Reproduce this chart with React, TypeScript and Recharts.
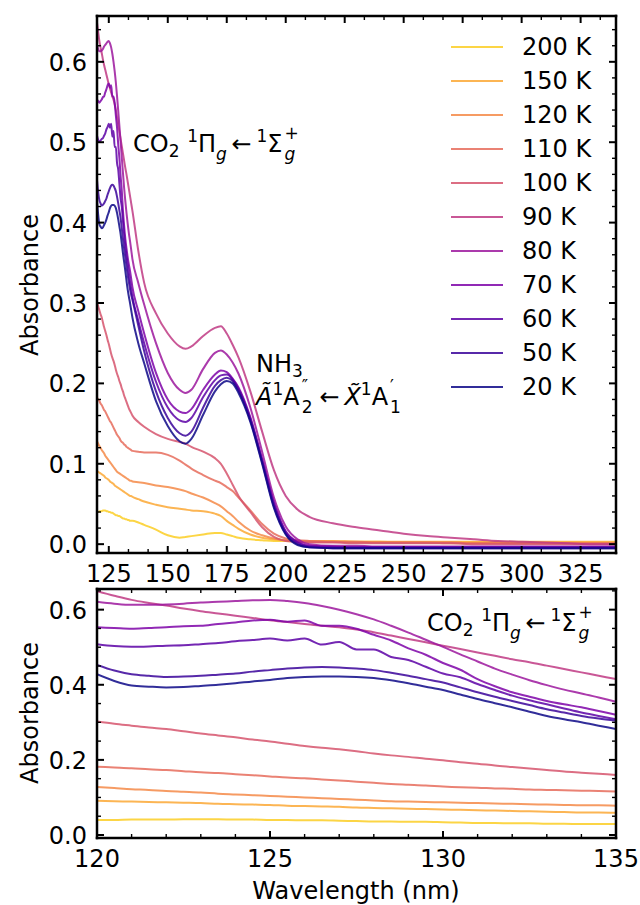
import React from "react";
import { LineChart, Line, XAxis, YAxis } from "recharts";

const FONT = '"DejaVu Sans", "Liberation Sans", sans-serif';

// wavelength grid (nm): fine over the CO2 band, coarser beyond
const WL = [
  120, 120.5, 121, 121.5, 122, 122.5, 123, 123.5, 124, 124.5, 125, 125.5, 126, 126.5, 127, 127.5,
  128, 128.5, 129, 129.5, 130, 130.5, 131, 131.5, 132, 132.5, 133, 133.5, 134, 134.5, 135,
  137.5, 140, 145, 150, 155, 157.5, 160, 165, 170, 172.5, 175, 177.5, 180, 185, 190, 195, 200, 205, 210,
  220, 230, 240, 250, 260, 270, 280, 290, 300, 310, 320, 330, 340,
];

const ABS_200K = [
  0.040, 0.040, 0.041, 0.041, 0.041, 0.042, 0.042, 0.042, 0.041, 0.041, 0.040, 0.040, 0.039, 0.039, 0.038, 0.037,
  0.036, 0.036, 0.035, 0.035, 0.034, 0.033, 0.032, 0.032, 0.031, 0.031, 0.030, 0.030, 0.029, 0.029, 0.029,
  0.027, 0.024, 0.018, 0.011, 0.008, 0.009, 0.010, 0.012, 0.014, 0.014, 0.012, 0.010, 0.008, 0.006, 0.005, 0.004, 0.004, 0.003, 0.003,
  0.003, 0.003, 0.003, 0.002, 0.002, 0.002, 0.002, 0.002, 0.002, 0.002, 0.002, 0.002, 0.002,
];
const ABS_150K = [
  0.091, 0.090, 0.089, 0.088, 0.087, 0.086, 0.085, 0.083, 0.082, 0.081, 0.080, 0.078, 0.077, 0.076, 0.075, 0.073,
  0.072, 0.071, 0.070, 0.069, 0.068, 0.067, 0.066, 0.065, 0.064, 0.063, 0.062, 0.061, 0.060, 0.060, 0.059,
  0.056, 0.053, 0.049, 0.046, 0.044, 0.043, 0.042, 0.041, 0.038, 0.035, 0.029, 0.024, 0.019, 0.012, 0.008, 0.006, 0.005, 0.004, 0.004,
  0.004, 0.003, 0.003, 0.003, 0.003, 0.003, 0.003, 0.003, 0.003, 0.003, 0.003, 0.003, 0.003,
];
const ABS_120K = [
  0.128, 0.125, 0.122, 0.120, 0.117, 0.115, 0.113, 0.110, 0.108, 0.106, 0.104, 0.102, 0.100, 0.098, 0.096, 0.094,
  0.092, 0.090, 0.089, 0.088, 0.087, 0.086, 0.085, 0.084, 0.083, 0.082, 0.081, 0.080, 0.079, 0.079, 0.078,
  0.077, 0.076, 0.073, 0.071, 0.068, 0.066, 0.063, 0.058, 0.051, 0.047, 0.041, 0.035, 0.028, 0.017, 0.011, 0.007, 0.005, 0.004, 0.003,
  0.003, 0.002, 0.002, 0.002, 0.002, 0.001, 0.001, 0.001, 0.001, 0.001, 0.001, 0.001, 0.001,
];
const ABS_110K = [
  0.182, 0.180, 0.178, 0.175, 0.173, 0.170, 0.167, 0.165, 0.162, 0.159, 0.156, 0.153, 0.151, 0.148, 0.145, 0.142,
  0.139, 0.136, 0.134, 0.132, 0.129, 0.127, 0.126, 0.124, 0.123, 0.121, 0.120, 0.119, 0.118, 0.117, 0.116,
  0.115, 0.114, 0.114, 0.111, 0.104, 0.099, 0.094, 0.086, 0.079, 0.076, 0.071, 0.066, 0.058, 0.042, 0.025, 0.013, 0.007, 0.005, 0.004,
  0.003, 0.003, 0.002, 0.002, 0.002, 0.002, 0.001, 0.001, 0.001, 0.001, 0.001, 0.001, 0.001,
];
const ABS_100K = [
  0.302, 0.296, 0.291, 0.286, 0.282, 0.276, 0.270, 0.265, 0.260, 0.254, 0.249, 0.243, 0.237, 0.232, 0.228, 0.223,
  0.217, 0.212, 0.208, 0.203, 0.199, 0.194, 0.190, 0.185, 0.181, 0.177, 0.173, 0.169, 0.166, 0.163, 0.160,
  0.152, 0.146, 0.137, 0.131, 0.127, 0.125, 0.121, 0.115, 0.107, 0.100, 0.088, 0.074, 0.060, 0.040, 0.021, 0.009, 0.004, 0.003, 0.002,
  0.002, 0.001, 0.001, 0.001, 0.001, 0.001, 0.0, 0.0, 0.0, 0.0, 0.0, 0.0, 0.0,
];
const ABS_90K = [
  0.649, 0.637, 0.626, 0.618, 0.611, 0.603, 0.596, 0.590, 0.584, 0.578, 0.572, 0.567, 0.562, 0.557, 0.553, 0.547,
  0.540, 0.531, 0.522, 0.513, 0.504, 0.495, 0.486, 0.477, 0.468, 0.460, 0.451, 0.442, 0.433, 0.424, 0.415,
  0.365, 0.325, 0.287, 0.262, 0.246, 0.243, 0.246, 0.259, 0.269, 0.271, 0.262, 0.248, 0.232, 0.190, 0.140, 0.092, 0.060, 0.043, 0.034,
  0.026, 0.021, 0.017, 0.013, 0.010, 0.008, 0.006, 0.004, 0.003, 0.002, 0.001, 0.0, 0.0,
];
const ABS_80K = [
  0.621, 0.616, 0.613, 0.613, 0.614, 0.616, 0.619, 0.621, 0.623, 0.625, 0.626, 0.623, 0.618, 0.610, 0.600, 0.588,
  0.574, 0.557, 0.539, 0.520, 0.501, 0.481, 0.462, 0.443, 0.427, 0.412, 0.399, 0.387, 0.377, 0.366, 0.355,
  0.325, 0.298, 0.250, 0.213, 0.192, 0.188, 0.192, 0.218, 0.238, 0.241, 0.236, 0.226, 0.212, 0.170, 0.115, 0.058, 0.022, 0.006, 0.0,
  -0.002, -0.002, -0.003, -0.003, -0.003, -0.003, -0.003, -0.003, -0.003, -0.003, -0.003, -0.003, -0.003,
];
const ABS_70K = [
  0.553, 0.551, 0.549, 0.551, 0.553, 0.556, 0.557, 0.562, 0.566, 0.571, 0.573, 0.568, 0.571, 0.557, 0.557, 0.549,
  0.533, 0.518, 0.497, 0.480, 0.458, 0.440, 0.415, 0.396, 0.380, 0.368, 0.357, 0.348, 0.340, 0.330, 0.320,
  0.290, 0.262, 0.213, 0.180, 0.165, 0.163, 0.168, 0.192, 0.211, 0.216, 0.214, 0.206, 0.195, 0.158, 0.106, 0.052, 0.016, 0.003, -0.002,
  -0.003, -0.004, -0.004, -0.004, -0.004, -0.004, -0.004, -0.004, -0.004, -0.004, -0.004, -0.004, -0.004,
];
const ABS_60K = [
  0.508, 0.503, 0.501, 0.502, 0.504, 0.505, 0.508, 0.511, 0.516, 0.519, 0.523, 0.518, 0.523, 0.507, 0.514, 0.494,
  0.494, 0.474, 0.466, 0.448, 0.430, 0.420, 0.402, 0.386, 0.371, 0.359, 0.348, 0.337, 0.326, 0.317, 0.308,
  0.278, 0.250, 0.202, 0.170, 0.154, 0.152, 0.157, 0.183, 0.204, 0.210, 0.211, 0.205, 0.193, 0.156, 0.104, 0.050, 0.015, 0.002, -0.003,
  -0.004, -0.004, -0.004, -0.004, -0.004, -0.004, -0.004, -0.004, -0.004, -0.004, -0.004, -0.004, -0.004,
];
const ABS_50K = [
  0.453, 0.438, 0.428, 0.424, 0.421, 0.422, 0.424, 0.427, 0.430, 0.435, 0.439, 0.443, 0.446, 0.447, 0.446, 0.443,
  0.439, 0.432, 0.424, 0.415, 0.406, 0.393, 0.380, 0.368, 0.357, 0.346, 0.335, 0.326, 0.317, 0.310, 0.304,
  0.272, 0.240, 0.190, 0.157, 0.138, 0.135, 0.140, 0.170, 0.197, 0.204, 0.207, 0.203, 0.191, 0.154, 0.102, 0.047, 0.013, 0.0, -0.004,
  -0.005, -0.005, -0.005, -0.005, -0.005, -0.005, -0.005, -0.005, -0.005, -0.005, -0.005, -0.005, -0.005,
];
const ABS_20K = [
  0.428, 0.410, 0.398, 0.395, 0.393, 0.394, 0.397, 0.400, 0.404, 0.409, 0.413, 0.418, 0.421, 0.422, 0.422, 0.421,
  0.418, 0.412, 0.404, 0.395, 0.386, 0.374, 0.362, 0.351, 0.340, 0.328, 0.317, 0.308, 0.300, 0.291, 0.282,
  0.250, 0.225, 0.178, 0.147, 0.128, 0.125, 0.131, 0.161, 0.190, 0.199, 0.203, 0.200, 0.188, 0.152, 0.100, 0.045, 0.012, -0.001, -0.004,
  -0.005, -0.005, -0.005, -0.005, -0.005, -0.005, -0.005, -0.005, -0.005, -0.005, -0.005, -0.005, -0.005,
];

// legend / drawing order (plasma colours)
const SERIES = [
  { key: "k200", label: "200 K", color: "#fcce25", values: ABS_200K },
  { key: "k150", label: "150 K", color: "#fca835", values: ABS_150K },
  { key: "k120", label: "120 K", color: "#f48a48", values: ABS_120K },
  { key: "k110", label: "110 K", color: "#e66c5c", values: ABS_110K },
  { key: "k100", label: "100 K", color: "#d6556d", values: ABS_100K },
  { key: "k90", label: "90 K", color: "#bf3984", values: ABS_90K },
  { key: "k80", label: "80 K", color: "#9c179e", values: ABS_80K },
  { key: "k70", label: "70 K", color: "#7e03a8", values: ABS_70K },
  { key: "k60", label: "60 K", color: "#5c01a6", values: ABS_60K },
  { key: "k50", label: "50 K", color: "#3a049a", values: ABS_50K },
  { key: "k20", label: "20 K", color: "#0d0887", values: ABS_20K },
];

const ROWS = WL.map((wl, i) => {
  const row: Record<string, number> = { wl };
  SERIES.forEach((s) => (row[s.key] = s.values[i]));
  return row;
});
const ROWS_ZOOM = ROWS.filter((r) => r.wl <= 135);

const TOP_X_DOMAIN = [120, 340];
const TOP_Y_DOMAIN = [-0.011, 0.657];
const ZOOM_X_DOMAIN = [120, 135];
const ZOOM_Y_DOMAIN = [-0.008, 0.655];

// major tick: first value, step, minor divisions
const TOP_X_TICKS = { first: 125, step: 25, div: 3 };
const TOP_Y_TICKS = { first: 0, step: 0.1, div: 5 };
const ZOOM_X_TICKS = { first: 120, step: 5, div: 5 };
const ZOOM_Y_TICKS = { first: 0, step: 0.2, div: 4 };

type TickSpec = { first: number; step: number; div: number };

function tickValues(spec: TickSpec, domain: number[]) {
  const m = spec.step / spec.div;
  const kmin = Math.ceil((domain[0] - spec.first) / m - 1e-9);
  const kmax = Math.floor((domain[1] - spec.first) / m + 1e-9);
  const out: number[] = [];
  for (let k = kmin; k <= kmax; k++) out.push(+(spec.first + k * m).toFixed(6));
  return out;
}

function isMajor(spec: TickSpec, v: number) {
  const r = (v - spec.first) / spec.step;
  return Math.abs(r - Math.round(r)) < 1e-6;
}

const MAJOR_LEN = 7;
const MINOR_LEN = 4;

function makeTick(side: "bottom" | "top" | "left" | "right", spec: TickSpec, fmt?: (v: number) => string) {
  return (props: any) => {
    const { x, y, payload } = props;
    const v = payload.value;
    const major = isMajor(spec, v);
    const len = major ? MAJOR_LEN : MINOR_LEN;
    const sw = major ? 2 : 1.4;
    let line;
    if (side === "bottom") line = <line x1={x} y1={y} x2={x} y2={y - len} stroke="#000" strokeWidth={sw} />;
    else if (side === "top") line = <line x1={x} y1={y} x2={x} y2={y + len} stroke="#000" strokeWidth={sw} />;
    else if (side === "left") line = <line x1={x} y1={y} x2={x + len} y2={y} stroke="#000" strokeWidth={sw} />;
    else line = <line x1={x} y1={y} x2={x - len} y2={y} stroke="#000" strokeWidth={sw} />;
    let label = null;
    if (major && fmt) {
      if (side === "bottom")
        label = (
          <text x={x} y={y + 29} textAnchor="middle" fontFamily={FONT} fontSize={24} fill="#000">
            {fmt(v)}
          </text>
        );
      if (side === "left")
        label = (
          <text x={x - 10} y={y + 9} textAnchor="end" fontFamily={FONT} fontSize={24} fill="#000">
            {fmt(v)}
          </text>
        );
    }
    return (
      <g>
        {line}
        {label}
      </g>
    );
  };
}

const FRAME = { stroke: "#000", strokeWidth: 2.5, strokeLinecap: "square" as const };

function Panel({
  data,
  width,
  height,
  margin,
  xDomain,
  yDomain,
  xSpec,
  ySpec,
  xFmt,
  yFmt,
}: {
  data: Record<string, number>[];
  width: number;
  height: number;
  margin: { top: number; right: number; bottom: number; left: number };
  xDomain: number[];
  yDomain: number[];
  xSpec: TickSpec;
  ySpec: TickSpec;
  xFmt: (v: number) => string;
  yFmt: (v: number) => string;
}) {
  const xt = tickValues(xSpec, xDomain);
  const yt = tickValues(ySpec, yDomain);
  // axes are 1px thick so they are drawn; margins already account for that
  return (
    <LineChart width={width} height={height} data={data} margin={margin}>
      <XAxis
        dataKey="wl"
        type="number"
        domain={xDomain}
        ticks={xt}
        interval={0}
        height={1}
        tickSize={0}
        tickMargin={0}
        tickLine={false}
        axisLine={FRAME}
        tick={makeTick("bottom", xSpec, xFmt)}
        allowDataOverflow
      />
      <XAxis
        xAxisId="top"
        orientation="top"
        dataKey="wl"
        type="number"
        domain={xDomain}
        ticks={xt}
        interval={0}
        height={1}
        tickSize={0}
        tickMargin={0}
        tickLine={false}
        axisLine={FRAME}
        tick={makeTick("top", xSpec)}
        allowDataOverflow
      />
      <YAxis
        type="number"
        domain={yDomain}
        ticks={yt}
        interval={0}
        width={1}
        tickSize={0}
        tickMargin={0}
        tickLine={false}
        axisLine={FRAME}
        tick={makeTick("left", ySpec, yFmt)}
        allowDataOverflow
      />
      <YAxis
        yAxisId="right"
        orientation="right"
        type="number"
        domain={yDomain}
        ticks={yt}
        interval={0}
        width={1}
        tickSize={0}
        tickMargin={0}
        tickLine={false}
        axisLine={FRAME}
        tick={makeTick("right", ySpec)}
        allowDataOverflow
      />
      {SERIES.map((s) => (
        <Line
          key={s.key}
          type="monotone"
          dataKey={s.key}
          stroke={s.color}
          strokeOpacity={0.85}
          strokeWidth={2}
          dot={false}
          activeDot={false}
          isAnimationActive={false}
        />
      ))}
    </LineChart>
  );
}

const SCRIPT = 17;
const Sub = ({ children, top = 5 }: { children: React.ReactNode; top?: number }) => (
  <span style={{ fontSize: SCRIPT, position: "relative", top }}>{children}</span>
);
const Sup = ({ children }: { children: React.ReactNode }) => (
  <span style={{ fontSize: SCRIPT, position: "relative", top: -10 }}>{children}</span>
);
// stacked superscript over subscript
const SupSub = ({ sup, sub, w = 13 }: { sup: React.ReactNode; sub: React.ReactNode; w?: number }) => (
  <span style={{ display: "inline-block", position: "relative", width: w, height: 24, verticalAlign: "top" }}>
    <span style={{ position: "absolute", left: 2, top: -7, fontSize: SCRIPT, lineHeight: "17px" }}>{sup}</span>
    <span style={{ position: "absolute", left: 2, top: 14, fontSize: SCRIPT, lineHeight: "17px" }}>{sub}</span>
  </span>
);
const It = ({ children }: { children: React.ReactNode }) => <span style={{ fontStyle: "italic" }}>{children}</span>;

const CO2Label = () => (
  <span>
    CO<Sub>2</Sub> <Sup>1</Sup>Π
    <Sub top={8}>
      <It>g</It>
    </Sub>
    {"\u2009"}←{"\u2009"}
    <Sup>1</Sup>Σ
    <SupSub sup="+" sub={<It>g</It>} w={14} />
  </span>
);

const textBase: React.CSSProperties = {
  position: "absolute",
  fontFamily: FONT,
  fontSize: 24,
  lineHeight: "24px",
  color: "#000",
  whiteSpace: "nowrap",
};

const LEGEND_X = 451;
const LEGEND_Y = 47;
const LEGEND_GAP = 34;

export default function App() {
  return (
    <div style={{ position: "absolute", left: 0, top: 0, width: 640, height: 905, background: "#fff" }}>
      <div style={{ position: "absolute", left: 0, top: 0 }}>
        <Panel
          data={ROWS}
          width={640}
          height={600}
          margin={{ top: 15, right: 23, bottom: 46, left: 96 }}
          xDomain={TOP_X_DOMAIN}
          yDomain={TOP_Y_DOMAIN}
          xSpec={TOP_X_TICKS}
          ySpec={TOP_Y_TICKS}
          xFmt={(v) => String(v)}
          yFmt={(v) => v.toFixed(1)}
        />
      </div>
      <div style={{ position: "absolute", left: 0, top: 580 }}>
        <Panel
          data={ROWS_ZOOM}
          width={640}
          height={325}
          margin={{ top: 8, right: 23, bottom: 66, left: 96 }}
          xDomain={ZOOM_X_DOMAIN}
          yDomain={ZOOM_Y_DOMAIN}
          xSpec={ZOOM_X_TICKS}
          ySpec={ZOOM_Y_TICKS}
          xFmt={(v) => String(v)}
          yFmt={(v) => v.toFixed(1)}
        />
      </div>

      {/* axis titles */}
      <div style={{ ...textBase, left: 30, top: 285, transform: "translate(-50%, -50%) rotate(-90deg)" }}>Absorbance</div>
      <div style={{ ...textBase, left: 30, top: 713, transform: "translate(-50%, -50%) rotate(-90deg)" }}>Absorbance</div>
      <div style={{ ...textBase, left: 356, top: 879, transform: "translateX(-50%)" }}>Wavelength (nm)</div>

      {/* annotations */}
      <div style={{ ...textBase, left: 133, top: 132 }}>
        <CO2Label />
      </div>
      <div style={{ ...textBase, left: 427, top: 611 }}>
        <CO2Label />
      </div>
      <div style={{ ...textBase, left: 256, top: 352 }}>
        NH<Sub>3</Sub>
      </div>
      <div style={{ ...textBase, left: 256, top: 385 }}>
        <It>Ã</It>
        <Sup>1</Sup>A
        <SupSub sup="″" sub="2" w={15} />
        {"\u2009"}←{"\u2009"}
        <It>{"X\u0303"}</It>
        <Sup>1</Sup>A
        <SupSub sup="′" sub="1" w={12} />
      </div>

      {/* legend */}
      {SERIES.map((s, i) => (
        <div
          key={s.key}
          style={{
            position: "absolute",
            left: LEGEND_X,
            top: LEGEND_Y + i * LEGEND_GAP - 12,
            height: 24,
            display: "flex",
            alignItems: "center",
          }}
        >
          <span style={{ display: "inline-block", width: 52, height: 2.5, background: s.color, opacity: 0.85 }} />
          <span style={{ fontFamily: FONT, fontSize: 24, lineHeight: "24px", marginLeft: 19 }}>{s.label}</span>
        </div>
      ))}
    </div>
  );
}
